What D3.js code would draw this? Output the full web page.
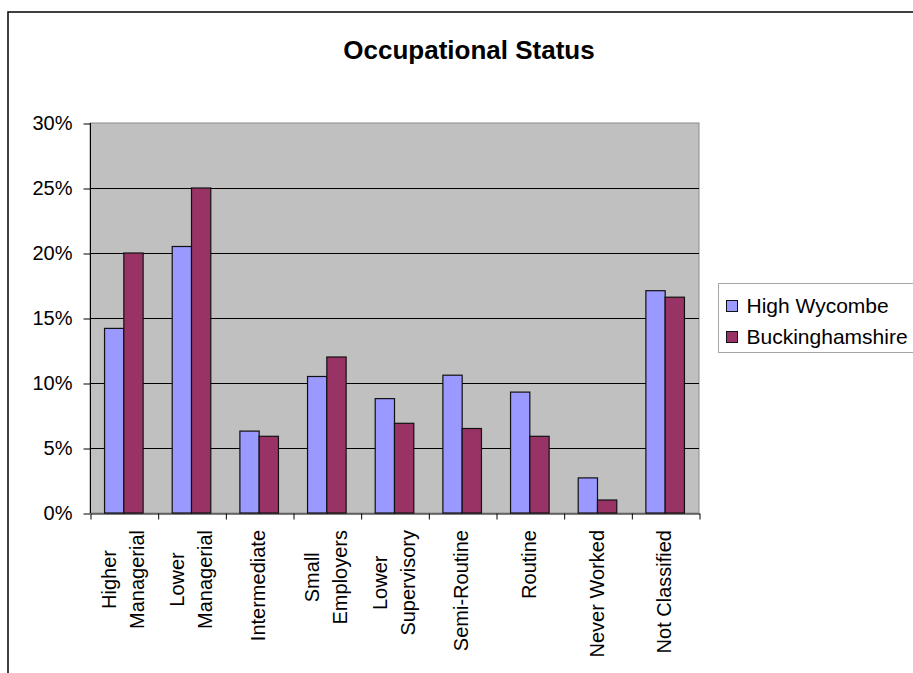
<!DOCTYPE html>
<html>
<head>
<meta charset="utf-8">
<script src="https://cdn.jsdelivr.net/npm/d3@7"></script>
<style>
  body { margin: 0; background: #fff; }
  svg { display: block; font-family: "Liberation Sans", Arial, sans-serif; }
  .y-axis text { font-size: 20px; fill: #000; }
  .y-axis path { display: none; }
  .x-axis path, .x-axis line, .y-axis line { stroke: #000; }
  .cat-label { font-size: 20px; fill: #000; }
  .legend text { font-size: 21px; fill: #000; }
</style>
</head>
<body>
<div id="app"></div>
<script>
// chart data
const categories = [
  "Higher\nManagerial",
  "Lower\nManagerial",
  "Intermediate",
  "Small\nEmployers",
  "Lower\nSupervisory",
  "Semi-Routine",
  "Routine",
  "Never Worked",
  "Not Classified",
];
const seriesNames = ["High Wycombe", "Buckinghamshire"];
const highWycombe = [14.2, 20.5, 6.3, 10.5, 8.8, 10.6, 9.3, 2.7, 17.1];
const buckinghamshire = [20.0, 25.0, 5.9, 12.0, 6.9, 6.5, 5.9, 1.0, 16.6];
const yTicks = [0, 5, 10, 15, 20, 25, 30];
const seriesColors = ["#9999ff", "#993366"];

// basic settings of chart
const chartSettings = {
  width: 913,
  height: 673,
  plotLeft: 90,
  plotTop: 123,
  plotWidth: 609,
  plotHeight: 390,
};

const svg = d3
  .select("#app")
  .append("svg")
  .attr("width", chartSettings.width)
  .attr("height", chartSettings.height);

// outer chart frame (runs off the right and bottom edges)
svg
  .append("rect")
  .attr("x", 8)
  .attr("y", 12)
  .attr("width", 1000)
  .attr("height", 1000)
  .attr("fill", "#fff")
  .attr("stroke", "#111")
  .attr("stroke-width", 1.6);

// title
svg
  .append("text")
  .attr("x", 469)
  .attr("y", 59)
  .attr("text-anchor", "middle")
  .attr("font-size", 26)
  .attr("font-weight", "bold")
  .text("Occupational Status");

const plot = svg
  .append("g")
  .attr("transform", `translate(${chartSettings.plotLeft},${chartSettings.plotTop})`);

const { plotWidth, plotHeight } = chartSettings;

// scales
const yScale = d3.scaleLinear().domain([0, 30]).range([plotHeight, 0]);
const x0 = d3.scaleBand().domain(d3.range(categories.length)).range([0, plotWidth]);
const x1 = d3
  .scaleBand()
  .domain(d3.range(seriesNames.length))
  .range([x0.bandwidth() * 0.215, x0.bandwidth() * 0.785]);
const xEdges = d3.scaleLinear().domain([0, categories.length]).range([0, plotWidth]);

// grey plot background
plot
  .append("rect")
  .attr("width", plotWidth)
  .attr("height", plotHeight)
  .attr("fill", "#c0c0c0")
  .attr("stroke", "#8c8c8c")
  .attr("stroke-width", 1);

// gridlines
plot
  .append("g")
  .selectAll("line")
  .data(yTicks.filter((d) => d > 0 && d < 30))
  .join("line")
  .attr("x1", 0)
  .attr("x2", plotWidth)
  .attr("y1", (d) => Math.round(yScale(d)) + 0.5)
  .attr("y2", (d) => Math.round(yScale(d)) + 0.5)
  .attr("stroke", "#000");

// left axis line
plot
  .append("line")
  .attr("x1", 0.5)
  .attr("x2", 0.5)
  .attr("y1", 0)
  .attr("y2", plotHeight)
  .attr("stroke", "#000");

// y axis
plot
  .append("g")
  .attr("class", "y-axis")
  .attr("transform", "translate(0.5,0.5)")
  .call(
    d3
      .axisLeft(yScale)
      .tickValues(yTicks)
      .tickFormat((d) => d + "%")
      .tickSize(7)
      .tickPadding(11)
  )
  .call((g) => g.selectAll("text").attr("font-family", null).attr("font-size", null));

// bars
const rows = categories.map((c, i) => [highWycombe[i], buckinghamshire[i]]);
plot
  .append("g")
  .selectAll("g")
  .data(rows)
  .join("g")
  .attr("transform", (d, i) => `translate(${x0(i)},0)`)
  .selectAll("rect")
  .data((d) => d.map((value, s) => ({ value, s })))
  .join("rect")
  .attr("x", (d) => x1(d.s))
  .attr("width", x1.bandwidth())
  .attr("y", (d) => yScale(d.value))
  .attr("height", (d) => plotHeight - yScale(d.value))
  .attr("fill", (d) => seriesColors[d.s])
  .attr("stroke", "#111")
  .attr("stroke-width", 1.2);

// x axis with ticks on category boundaries
plot
  .append("g")
  .attr("class", "x-axis")
  .attr("transform", `translate(0.5,${plotHeight + 0.5})`)
  .call(
    d3
      .axisBottom(xEdges)
      .tickValues(d3.range(categories.length + 1))
      .tickFormat("")
      .tickSize(6)
      .tickSizeOuter(0)
  );

// rotated category labels, lines centred on the longest one
const labelTop = plotHeight + 17;
const lineGap = 28;
categories.forEach((name, i) => {
  const lines = name.split("\n");
  const cx = x0(i) + x0.bandwidth() / 2;
  const texts = lines.map((line, k) =>
    plot
      .append("text")
      .attr("class", "cat-label")
      .attr("text-anchor", "middle")
      .text(line)
  );
  const maxLen = d3.max(texts, (t) => t.node().getComputedTextLength());
  texts.forEach((t, k) => {
    const bx = cx + 6 + (k - (lines.length - 1) / 2) * lineGap;
    const by = labelTop + maxLen / 2;
    t.attr("transform", `translate(${bx},${by}) rotate(-90)`);
  });
});

// legend
const legend = svg
  .append("g")
  .attr("class", "legend")
  .attr("transform", "translate(718.5,283.5)");
legend
  .append("rect")
  .attr("width", 260)
  .attr("height", 69)
  .attr("fill", "#fff")
  .attr("stroke", "#a6a6a6");
const legendItems = legend
  .selectAll("g.item")
  .data(seriesNames)
  .join("g")
  .attr("class", "item")
  .attr("transform", (d, i) => `translate(0,${17 + i * 31})`);
legendItems
  .append("rect")
  .attr("x", 8)
  .attr("y", 0)
  .attr("width", 11)
  .attr("height", 11)
  .attr("fill", (d, i) => seriesColors[i])
  .attr("stroke", "#111");
legendItems
  .append("text")
  .attr("x", 28)
  .attr("y", 12)
  .text((d) => d);
</script>
</body>
</html>
